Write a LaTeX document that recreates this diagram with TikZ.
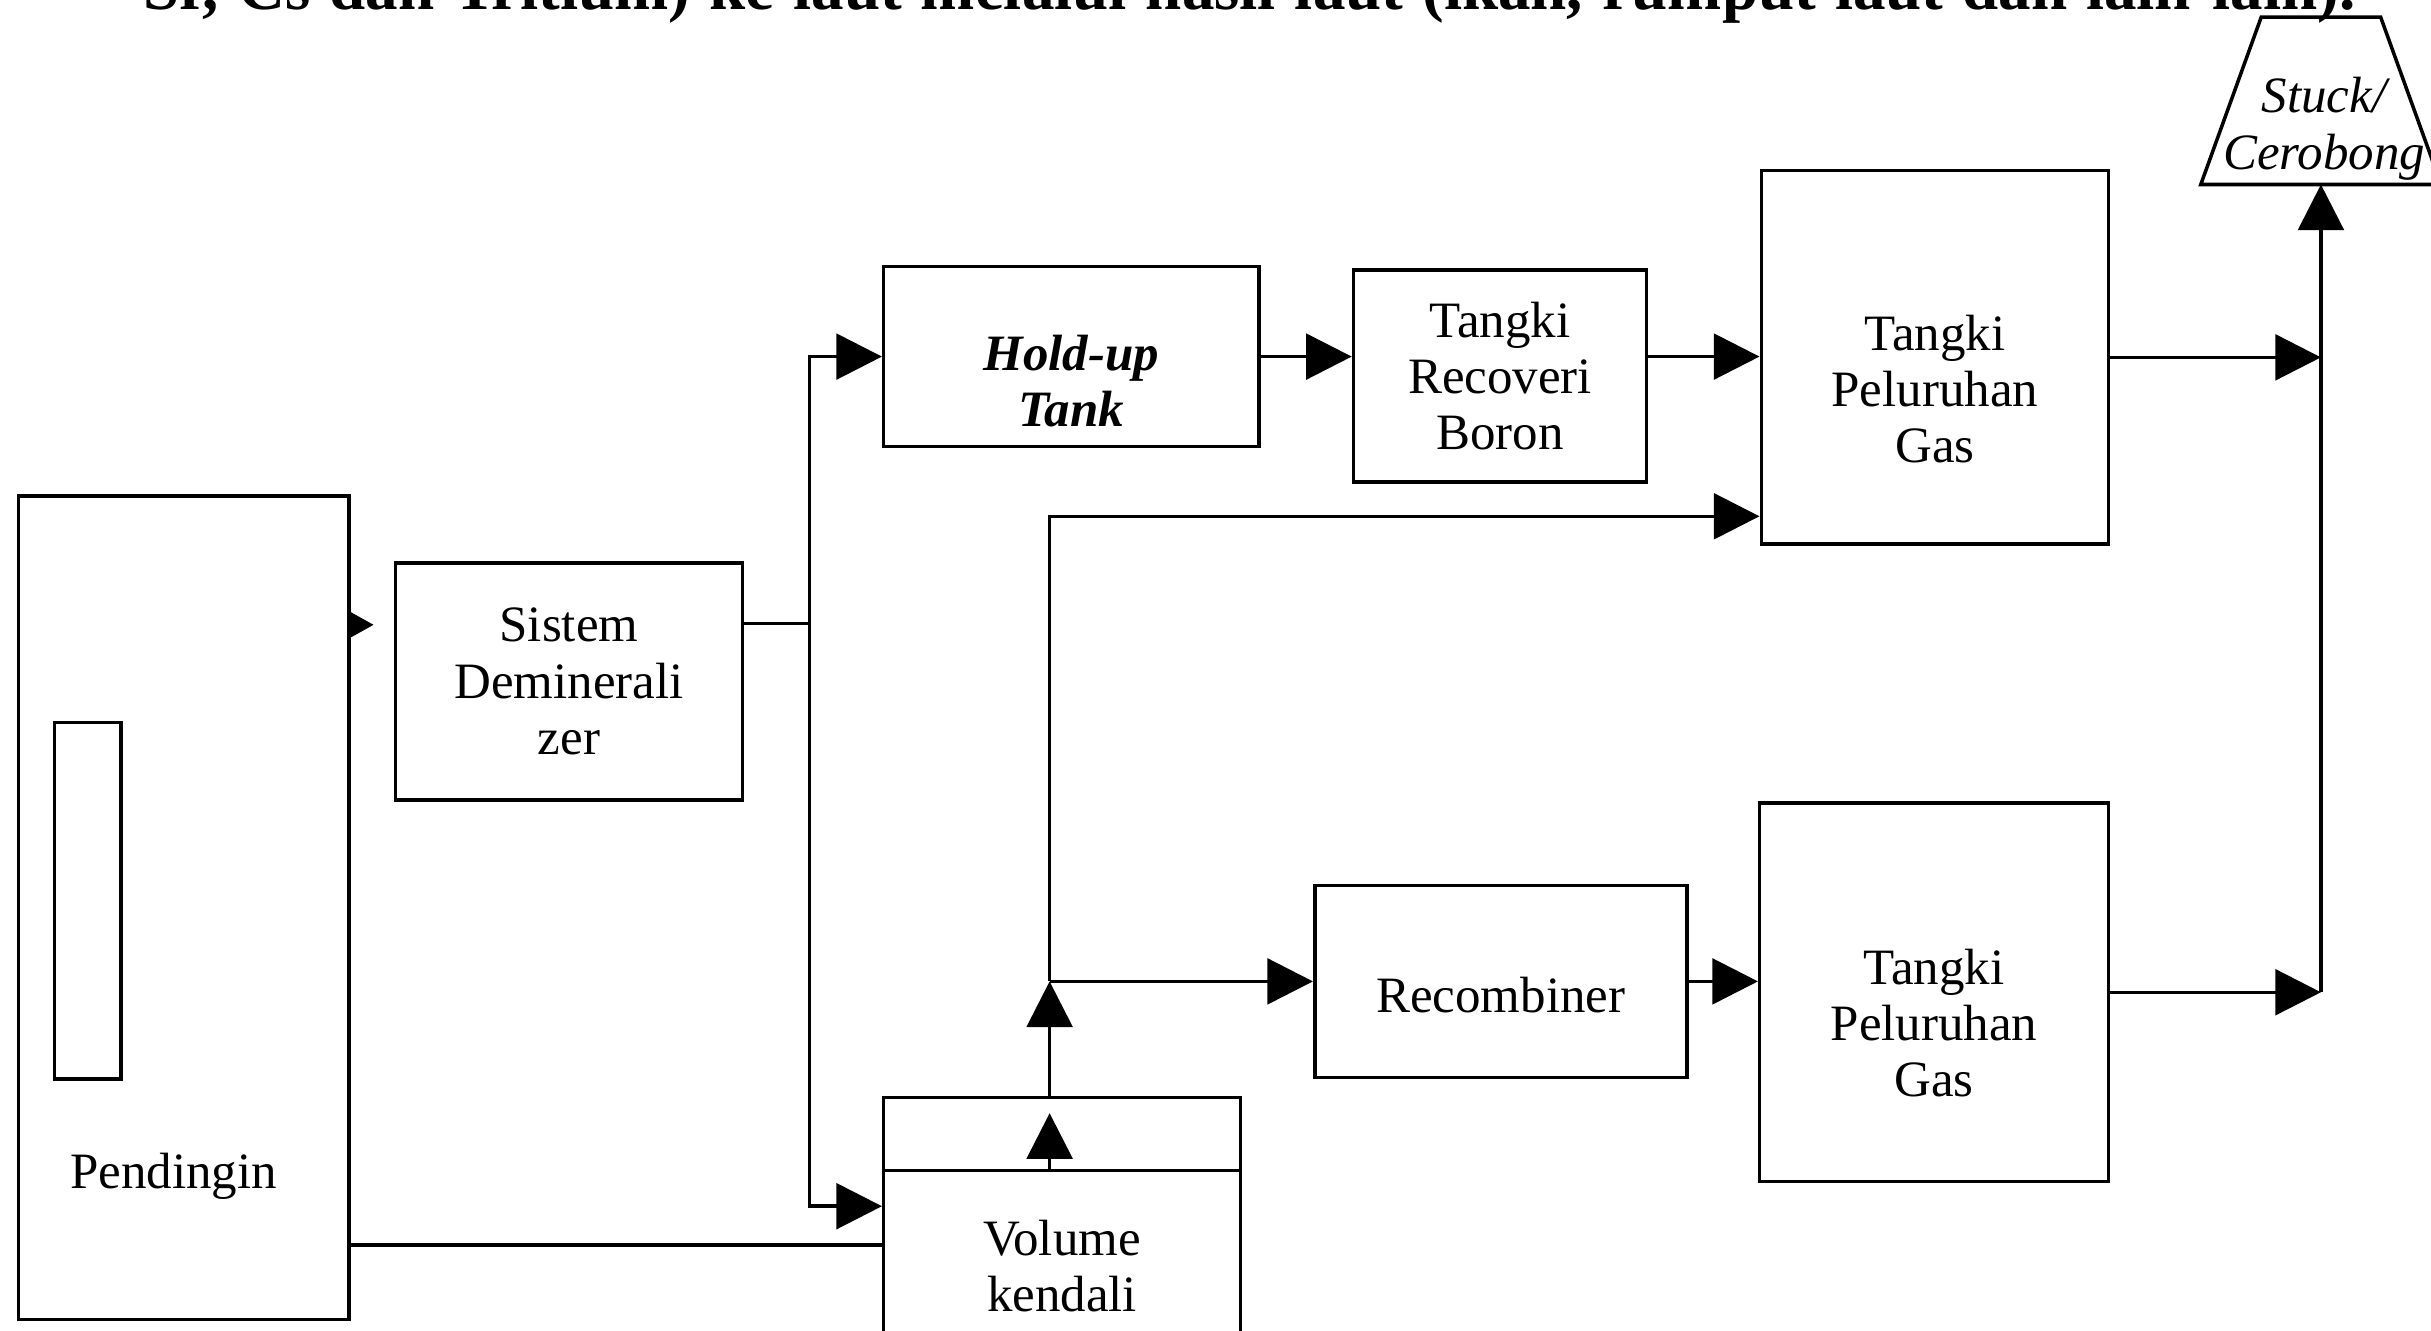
\documentclass[tikz,border=0pt]{standalone}
\usepackage{fontspec}
\setmainfont{Liberation Serif}
\usetikzlibrary{arrows.meta}

\newcommand{\pxu}{0.015504cm}

\tikzset{
  box/.style={draw, line width=1pt, align=center, inner sep=0pt,
    font=\fontsize{14.5}{16}\selectfont},
  lbl/.style={align=center, inner sep=0pt, font=\fontsize{14.5}{16}\selectfont},
  link/.style={line width=1pt},
  arr/.style={line width=1pt, -{Triangle[length=13pt,width=13pt]}},
  smallarr/.style={line width=1pt, -{Triangle[length=7pt,width=7.5pt]}},
}

\begin{document}
\begin{tikzpicture}[x=0.015504cm, y=-0.015504cm]
\useasboundingbox (0,0) rectangle (1568,858);

% line of the page text above the figure
\node[anchor=base west, inner sep=0pt, font=\fontsize{18.5}{22}\selectfont\bfseries] (para) at (92,6)
  {\makebox[22.12cm][s]{Sr, Cs dan Tritium) ke laut melalui hasil laut (ikan, rumput laut dan lain-lain).}};

% blocks
\node[box, minimum width=213*\pxu, minimum height=531*\pxu] (pend) at (118.5,585.5) {};
\node[box, minimum width=43*\pxu, minimum height=230*\pxu] (core) at (56.5,581) {};
\node[lbl] (pendtxt) at (112,759) {Pendingin};
\node[box, minimum width=224*\pxu, minimum height=153*\pxu] (demin) at (367,439.5) {Sistem\\Deminerali\\zer};
\node[box, minimum width=242*\pxu, minimum height=116*\pxu,
  label={[lbl, font=\fontsize{14.5}{16}\selectfont\bfseries\itshape, yshift=-7pt]center:{Hold-up\\Tank}}] (holdup) at (691,230) {};
\node[box, minimum width=189*\pxu, minimum height=137*\pxu] (trb) at (967.5,242.5) {Tangki\\Recoveri\\Boron};
\node[box, minimum width=224*\pxu, minimum height=241*\pxu,
  label={[lbl, yshift=-9pt]center:{Tangki\\Peluruhan\\Gas}}] (tpg1) at (1248,230.5) {};
\node[box, minimum width=240*\pxu, minimum height=124*\pxu,
  label={[lbl, yshift=-4pt]center:Recombiner}] (recomb) at (968,633) {};
\node[box, minimum width=225*\pxu, minimum height=244*\pxu,
  label={[lbl, yshift=-8.8pt]center:{Tangki\\Peluruhan\\Gas}}] (tpg2) at (1247.5,640) {};
\node[box, minimum width=230*\pxu, minimum height=172*\pxu,
  label={[lbl, yshift=-10pt]center:{Volume\\kendali}}] (volk) at (685,794) {};

% stack (trapezium)
\draw[link] (1419.5,119) -- (1458.5,11) -- (1535.5,11) -- (1574.5,119) -- cycle;
\node[lbl, font=\fontsize{14.5}{16}\selectfont\itshape] (stack) at (1499,83) {Stuck/\\Cerobong};
\coordinate (stackin) at (1497,119);

% helper points
\coordinate (pdtip) at (241,403);
\coordinate (pv) at (400,803);
\coordinate (split) at (522,402);
\coordinate (vin) at (522,778);
\coordinate (vk) at (677,755);
\coordinate (vktip) at (677,718);
\coordinate (jn) at (677,633);
\coordinate (up) at (677,333);

% connections
\draw[smallarr] (pend.east |- pdtip) -- (pdtip);
\draw[link] (pend.east |- pv) -- (volk.west |- pv);
\draw[link] (demin.east |- split) -- (split);
\draw[arr] (split) |- (holdup.west);
\draw[arr] (split) -- (vin) -- (vin -| volk.west);
\draw[arr] (holdup.east) -- (holdup.east -| trb.west);
\draw[arr] (holdup.east -| trb.east) -- (holdup.east -| tpg1.west);
\draw[link] (volk.west |- vk) -- (volk.east |- vk);
\draw[arr] (vk) -- (vktip);
\draw[arr] (volk.north -| jn) -- (jn);
\draw[arr] (jn) -- (up) -- (up -| tpg1.west);
\draw[arr] (jn) -- (recomb.west);
\draw[arr] (recomb.east) -- (recomb.east -| tpg2.west);
\draw[arr] (tpg1.east) -- (tpg1.east -| stackin);
\draw[arr] (tpg2.east) -- (tpg2.east -| stackin);
\draw[arr] (tpg2.east -| stackin) -- (stackin);
\end{tikzpicture}
\end{document}
